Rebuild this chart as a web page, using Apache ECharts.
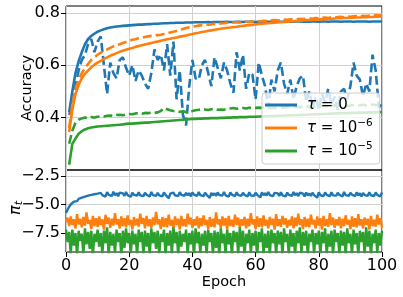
<!DOCTYPE html>
<html><head><meta charset="utf-8">
<script src="https://cdn.jsdelivr.net/npm/echarts@6/dist/echarts.min.js"></script>
<style>html,body{margin:0;padding:0;background:#fff}#c{width:403px;height:297px}</style>
</head><body><div id="c"></div>
<script>
// ---------- data ----------
const epochTicks = [0, 20, 40, 60, 80, 100];
const accTicks = [0.4, 0.6, 0.8];
const piTicks = [-7.5, -5.0, -2.5];
const legendNames = ['t0', 't6', 't5'];

// accuracy, epochs 1..100
const accBlueSolid = [0.42,0.50,0.57,0.615,0.65,0.68,0.70,0.712,0.72,0.728,0.733,0.737,0.741,0.744,0.746,0.748,0.749,0.750,0.751,0.752,
0.753,0.754,0.755,0.755,0.756,0.757,0.757,0.758,0.758,0.759,0.760,0.760,0.761,0.761,0.762,0.762,0.762,0.763,0.763,0.763,
0.764,0.764,0.764,0.764,0.765,0.764,0.765,0.765,0.765,0.765,0.766,0.765,0.765,0.766,0.766,0.765,0.766,0.766,0.766,0.765,
0.766,0.766,0.767,0.766,0.766,0.766,0.767,0.766,0.766,0.767,0.766,0.766,0.767,0.767,0.766,0.767,0.766,0.767,0.767,0.766,
0.767,0.767,0.766,0.767,0.767,0.767,0.766,0.767,0.767,0.767,0.766,0.767,0.767,0.767,0.767,0.766,0.767,0.767,0.767,0.767];
const accBlueDash = [0.41,0.44,0.52,0.58,0.62,0.64,0.68,0.70,0.65,0.69,0.71,0.60,0.49,0.61,0.57,0.55,0.62,0.63,0.59,0.56,
0.60,0.54,0.58,0.56,0.53,0.51,0.57,0.66,0.62,0.64,0.58,0.68,0.56,0.69,0.47,0.58,0.41,0.37,0.52,0.62,
0.55,0.545,0.60,0.62,0.57,0.52,0.63,0.59,0.55,0.61,0.58,0.53,0.495,0.65,0.58,0.64,0.51,0.57,0.565,0.47,
0.61,0.56,0.52,0.44,0.545,0.50,0.58,0.61,0.53,0.49,0.545,0.47,0.52,0.55,0.56,0.46,0.50,0.44,0.48,0.43,
0.49,0.46,0.51,0.45,0.48,0.43,0.50,0.51,0.47,0.52,0.61,0.56,0.545,0.48,0.53,0.50,0.64,0.58,0.44,0.45];
const accOrangeSolid = [0.345,0.43,0.49,0.525,0.55,0.567,0.58,0.592,0.602,0.61,0.617,0.624,0.63,0.636,0.641,0.646,0.651,0.655,0.659,0.663,
0.666,0.670,0.673,0.676,0.679,0.682,0.685,0.688,0.690,0.693,0.696,0.699,0.701,0.704,0.706,0.709,0.711,0.713,0.716,0.719,
0.722,0.724,0.727,0.729,0.731,0.733,0.735,0.737,0.739,0.741,0.743,0.744,0.746,0.747,0.749,0.750,0.752,0.753,0.754,0.756,
0.757,0.758,0.759,0.760,0.761,0.762,0.763,0.764,0.765,0.766,0.767,0.768,0.769,0.770,0.771,0.772,0.772,0.773,0.774,0.775,
0.775,0.776,0.777,0.777,0.778,0.779,0.779,0.780,0.780,0.781,0.781,0.782,0.782,0.783,0.783,0.784,0.784,0.785,0.785,0.786];
const accOrangeDash = [0.36,0.45,0.51,0.545,0.57,0.59,0.605,0.62,0.63,0.64,0.648,0.655,0.66,0.666,0.672,0.677,0.680,0.685,0.689,0.693,
0.697,0.699,0.703,0.705,0.708,0.710,0.712,0.713,0.715,0.716,0.719,0.722,0.725,0.728,0.731,0.735,0.738,0.742,0.745,0.748,
0.749,0.751,0.753,0.752,0.755,0.756,0.758,0.757,0.759,0.760,0.762,0.761,0.763,0.764,0.763,0.765,0.766,0.765,0.767,0.768,
0.767,0.769,0.770,0.768,0.771,0.772,0.771,0.773,0.774,0.773,0.775,0.776,0.775,0.777,0.776,0.778,0.779,0.777,0.780,0.779,
0.781,0.782,0.780,0.783,0.782,0.784,0.785,0.783,0.786,0.785,0.787,0.788,0.786,0.789,0.788,0.790,0.789,0.791,0.790,0.791];
const accGreenSolid = [0.22,0.30,0.32,0.338,0.348,0.355,0.359,0.362,0.364,0.366,0.367,0.368,0.369,0.370,0.371,0.372,0.373,0.374,0.376,0.377,
0.377,0.378,0.379,0.380,0.381,0.381,0.382,0.383,0.384,0.385,0.386,0.387,0.388,0.389,0.390,0.391,0.392,0.393,0.394,0.395,
0.395,0.396,0.396,0.397,0.397,0.398,0.398,0.398,0.399,0.399,0.400,0.400,0.401,0.401,0.402,0.402,0.402,0.403,0.403,0.403,
0.404,0.404,0.405,0.405,0.406,0.406,0.407,0.407,0.408,0.408,0.409,0.409,0.410,0.410,0.411,0.411,0.412,0.412,0.413,0.413,
0.414,0.414,0.415,0.415,0.416,0.416,0.417,0.417,0.417,0.418,0.418,0.418,0.419,0.419,0.419,0.420,0.420,0.420,0.421,0.421];
const accGreenDash = [0.30,0.35,0.38,0.392,0.397,0.400,0.398,0.402,0.400,0.403,0.405,0.404,0.407,0.408,0.406,0.410,0.411,0.409,0.412,0.414,
0.413,0.416,0.417,0.415,0.418,0.417,0.419,0.418,0.420,0.425,0.437,0.432,0.428,0.425,0.423,0.422,0.424,0.421,0.423,0.425,
0.428,0.430,0.433,0.431,0.429,0.432,0.434,0.430,0.431,0.430,0.433,0.435,0.437,0.434,0.436,0.437,0.435,0.438,0.436,0.437,
0.438,0.437,0.439,0.436,0.438,0.437,0.439,0.440,0.438,0.440,0.441,0.439,0.442,0.440,0.441,0.443,0.441,0.442,0.444,0.442,
0.443,0.445,0.443,0.444,0.446,0.444,0.445,0.447,0.445,0.446,0.448,0.446,0.447,0.449,0.447,0.448,0.450,0.448,0.449,0.450];

// pi_t, epochs 0..100 every 0.5
const piBlue = [-5.75,-5.45,-5.2,-5.0,-4.85,-4.75,-4.6,-4.7,-4.5,-4.55,-4.4,-4.45,-4.3,-4.38,-4.22,-4.32,-4.15,-4.28,-4.1,-4.25,-4.05,
-4.22,-3.98,-4.18,-4.02,-4.3,-3.92,-4.15,-4.05,-4.25,-3.88,
-4.2,-4.0,-4.28,-3.95,-4.12,-4.02,-4.24,-3.9,-4.18,-4.05,
-4.32,-3.97,-4.15,-4.0,-4.22,-3.93,-4.2,-4.04,-4.27,-3.96,
-4.14,-4.03,-4.3,-3.9,-4.17,-4.02,-4.25,-3.98,-4.2,-4.06,
-4.28,-3.94,-4.15,-4.01,-4.45,-4.05,-4.22,-3.95,-4.19,-4.03,
-4.26,-3.92,-4.16,-4.04,-4.23,-3.97,-4.2,-4.0,-4.29,-3.93,
-4.13,-4.05,-4.24,-3.9,-4.18,-4.02,-4.27,-3.96,-4.15,-4.04,
-4.42,-3.98,-4.2,-4.01,-4.25,-3.94,-4.17,-4.03,-4.22,-3.91,
-4.19,-4.05,-4.3,-3.95,-4.14,-4.02,-4.26,-3.93,-4.18,-4.06,
-4.23,-3.97,-4.16,-4.0,-4.28,-3.92,-4.21,-4.04,-4.24,-3.96,
-4.15,-4.03,-4.38,-3.94,-4.19,-4.01,-4.22,-3.9,-4.17,-4.05,
-4.27,-3.98,-4.14,-4.02,-4.25,-3.93,-4.2,-4.03,-4.29,-3.95,
-4.16,-4.04,-4.23,-3.91,-4.18,-4.0,-4.26,-3.97,-4.13,-4.05,
-4.3,-3.94,-4.21,-4.02,-4.24,-3.96,-4.17,-4.03,-4.4,-3.92,
-4.19,-4.05,-4.25,-3.95,-4.15,-4.01,-4.27,-3.93,-4.2,-4.04,
-4.22,-3.97,-4.16,-4.02,-4.28,-3.9,-4.18,-4.05,-4.24,-3.96,
-4.14,-4.03,-4.26,-3.94,-4.2,-4.01,-4.3,-3.98,-4.17,-4.04,
-4.23,-3.92,-4.19,-4.02,-4.25,-3.95,-4.15,-4.05,-4.28,-3.93];
const piOrange = [-6.55,
-6.15,-6.9,-6.05,-6.8,-6.3,-7.1,-5.85,-6.75,-6.25,-7.0,
-6.1,-6.85,-5.7,-6.7,-6.35,-7.15,-6.0,-6.9,-6.2,-6.95,
-6.05,-6.8,-6.3,-7.2,-5.9,-6.7,-6.15,-7.05,-6.25,-6.85,
-5.75,-6.75,-6.3,-7.1,-6.05,-6.9,-6.2,-7.0,-5.95,-6.8,
-6.35,-7.2,-6.1,-6.85,-6.25,-6.95,-5.8,-6.7,-6.2,-7.1,
-6.0,-6.9,-6.3,-7.05,-6.15,-6.8,-5.65,-6.75,-6.3,-7.15,
-6.1,-6.95,-6.2,-7.0,-5.9,-6.85,-6.35,-7.1,-6.05,-6.8,
-6.25,-7.2,-6.0,-6.9,-6.3,-6.95,-5.8,-6.75,-6.15,-7.05,
-6.3,-6.85,-6.05,-7.1,-6.2,-6.9,-5.95,-6.8,-6.35,-7.15,
-6.1,-6.95,-6.25,-7.0,-5.7,-6.75,-6.3,-7.1,-6.05,-6.85,
-6.2,-7.2,-6.0,-6.9,-6.35,-6.95,-5.9,-6.8,-6.15,-7.05,
-6.3,-6.85,-6.1,-7.1,-6.25,-6.9,-5.75,-6.75,-6.3,-7.15,
-6.05,-6.95,-6.2,-7.0,-5.95,-6.85,-6.35,-7.1,-6.1,-6.8,
-6.25,-7.2,-5.85,-6.9,-6.3,-6.95,-6.0,-6.75,-6.2,-7.05,
-6.35,-6.85,-6.05,-7.1,-6.15,-6.9,-5.8,-6.8,-6.3,-7.15,
-6.1,-6.95,-6.25,-7.0,-5.9,-6.75,-6.35,-7.1,-6.05,-6.85,
-6.2,-7.2,-6.0,-6.9,-6.3,-6.95,-5.75,-6.8,-6.15,-7.05,
-6.3,-6.85,-6.1,-7.1,-6.25,-6.9,-5.95,-6.75,-6.35,-7.15,
-6.05,-6.95,-6.2,-7.0,-5.85,-6.85,-6.3,-7.1,-6.15,-6.8,
-6.25,-7.2,-6.0,-6.9,-6.35,-6.95,-5.9,-6.75,-6.2,-7.05];
const piGreen = [-7.2,
-8.3,-7.4,-9.4,-7.2,-8.6,-7.5,-9.5,-7.3,-8.2,-7.6,
-9.4,-7.1,-8.5,-7.4,-8.9,-7.3,-9.5,-7.6,-8.3,-7.2,
-8.7,-7.5,-9.4,-7.3,-8.4,-7.0,-9.5,-7.4,-8.6,-7.6,
-9.3,-7.2,-8.3,-7.5,-9.5,-7.3,-8.8,-7.1,-8.4,-7.5,
-9.4,-7.3,-8.5,-7.6,-9.5,-7.2,-8.3,-7.4,-9.4,-7.3,
-8.7,-7.5,-9.5,-7.1,-8.4,-7.4,-8.9,-7.3,-9.4,-7.6,
-8.3,-7.2,-9.5,-7.5,-8.6,-7.3,-9.4,-7.0,-8.4,-7.4,
-9.5,-7.3,-8.7,-7.6,-8.3,-7.2,-9.4,-7.5,-8.5,-7.3,
-9.5,-7.1,-8.4,-7.4,-9.3,-7.6,-8.6,-7.3,-9.5,-7.2,
-8.3,-7.5,-9.4,-7.3,-8.8,-7.4,-9.5,-7.1,-8.4,-7.6,
-9.4,-7.2,-8.5,-7.5,-9.5,-7.3,-8.3,-7.4,-9.4,-7.0,
-8.7,-7.3,-9.5,-7.6,-8.4,-7.2,-9.3,-7.5,-8.6,-7.3,
-9.5,-7.4,-8.3,-7.1,-9.4,-7.6,-8.8,-7.3,-9.5,-7.2,
-8.4,-7.5,-9.4,-7.3,-8.5,-7.4,-9.5,-7.1,-8.3,-7.6,
-9.4,-7.2,-8.7,-7.5,-9.5,-7.3,-8.4,-7.0,-9.3,-7.4,
-8.6,-7.3,-9.5,-7.6,-8.3,-7.2,-9.4,-7.5,-8.5,-7.3,
-9.5,-7.4,-8.4,-7.1,-9.4,-7.6,-8.7,-7.3,-9.5,-7.2,
-8.3,-7.5,-9.4,-7.3,-8.6,-7.4,-9.5,-7.1,-8.4,-7.6,
-9.4,-7.2,-8.5,-7.5,-9.5,-7.3,-8.3,-7.4,-9.4,-7.0,
-8.7,-7.3,-9.5,-7.6,-8.4,-7.2,-9.3,-7.5,-8.6,-7.3];

// ---------- chart ----------
const C = {blue:'#1f77b4', orange:'#ff7f0e', green:'#2ca02c'};
const FONT = 'DejaVu Sans';
const accPts = arr => arr.map((v,i)=>[i+1, v]);
const piPts = arr => arr.map((v,i)=>[i*0.5, v]);
const fmtMinus = v => (v<0?'\u2212':'') + Math.abs(v).toFixed(1);

function accLine(name, data, color, dashed){
  return {name, type:'line', xAxisIndex:0, yAxisIndex:0, data:accPts(data), showSymbol:false, symbol:'none',
    lineStyle:{color, width:2.6, type: dashed?[9,4]:'solid', cap:'butt'}, itemStyle:{color}, animation:false, z:3};
}
function piLine(name, data, color){
  return {name, type:'line', xAxisIndex:1, yAxisIndex:1, data:piPts(data), showSymbol:false, symbol:'none',
    lineStyle:{color, width:2.4}, itemStyle:{color}, animation:false, z:3};
}

const chart = echarts.init(document.getElementById('c'), null, {renderer:'canvas'});
const axisLabelStyle = {color:'#000', fontSize:16, fontFamily:FONT};
chart.setOption({
  backgroundColor:'#fff',
  animation:false,
  textStyle:{fontFamily:FONT},
  grid:[
    {left:66, top:6, width:316, height:164, show:true, borderColor:'#000', borderWidth:1, backgroundColor:'transparent'},
    {left:66, top:170, width:316, height:82, show:true, borderColor:'#000', borderWidth:1, backgroundColor:'transparent'}
  ],
  graphic:[
    {type:'text', x:27, y:88, rotation:Math.PI/2, silent:true,
     style:{text:'Accuracy', fill:'#000', font:'14.5px "DejaVu Sans"', align:'center', verticalAlign:'middle'}},
    {type:'text', x:224, y:282, silent:true,
     style:{text:'Epoch', fill:'#000', font:'14.5px "DejaVu Sans"', align:'center', verticalAlign:'middle'}},
    {type:'text', x:16, y:208, rotation:Math.PI/2, silent:true,
     style:{text:'{p|π}{t|t}', fill:'#000', align:'center', verticalAlign:'middle',
       rich:{p:{fontSize:16, fontStyle:'italic', fontFamily:FONT, fill:'#000'},
             t:{fontSize:11, fontStyle:'italic', fontFamily:FONT, fill:'#000', verticalAlign:'bottom', padding:[6,0,0,0]}}}}
  ],
  xAxis:[
    {gridIndex:0, type:'value', min:epochTicks[0], max:epochTicks[epochTicks.length-1], interval:20, axisLine:{show:false}, axisTick:{show:false}, axisLabel:{show:false},
     splitLine:{show:true, lineStyle:{color:'#d0d0d0', width:1}}},
    {gridIndex:1, type:'value', min:epochTicks[0], max:epochTicks[epochTicks.length-1], interval:20, axisLine:{show:false},
     axisTick:{show:true, length:5, lineStyle:{color:'#000'}},
     axisLabel:Object.assign({margin:6}, axisLabelStyle),
     splitLine:{show:true, lineStyle:{color:'#d0d0d0', width:1}}}
  ],
  yAxis:[
    {gridIndex:0, type:'value', min:0.2, max:0.826, axisLine:{show:false},
     axisTick:{show:true, length:5, lineStyle:{color:'#000'}, customValues:accTicks},
     axisLabel:Object.assign({margin:6, customValues:accTicks, formatter:v=>v.toFixed(1)}, axisLabelStyle),
     splitLine:{show:true, lineStyle:{color:'#d0d0d0', width:1}}},
    {gridIndex:1, type:'value', min:-9.17, max:-1.97, axisLine:{show:false},
     axisTick:{show:true, length:5, lineStyle:{color:'#000'}, customValues:piTicks},
     axisLabel:Object.assign({margin:6, customValues:piTicks, formatter:fmtMinus}, axisLabelStyle),
     splitLine:{show:true, lineStyle:{color:'#d0d0d0', width:1}}}
  ],
  legend:{
    data:legendNames.map(n=>({name:n, icon:'rect'})),
    orient:'vertical', left:262, top:93, itemWidth:32, itemHeight:3, itemGap:3,
    padding:[2,7,3,3],
    backgroundColor:'rgba(255,255,255,0.8)', borderColor:'#cccccc', borderWidth:1, borderRadius:3,
    formatter: n => ({t0:'{i|τ}{n| = 0}', t6:'{i|τ}{n| = 10}{s|−6}', t5:'{i|τ}{n| = 10}{s|−5}'})[n],
    textStyle:{color:'#000', fontFamily:FONT, fontSize:15, lineHeight:20, padding:[0,0,0,5], rich:{
      i:{fontSize:15, fontStyle:'italic', fontFamily:FONT, color:'#000', lineHeight:20},
      n:{fontSize:15, fontFamily:FONT, color:'#000', lineHeight:20},
      s:{fontSize:10.5, fontFamily:FONT, color:'#000', verticalAlign:'top', lineHeight:11}}},
    selectedMode:false, z:10
  },
  series:[
    accLine('t0', accBlueSolid, C.blue, false),
    accLine('d0', accBlueDash, C.blue, true),
    accLine('t6', accOrangeSolid, C.orange, false),
    accLine('d6', accOrangeDash, C.orange, true),
    accLine('t5', accGreenSolid, C.green, false),
    accLine('d5', accGreenDash, C.green, true),
    piLine('p0', piBlue, C.blue),
    piLine('p6', piOrange, C.orange),
    piLine('p5', piGreen, C.green)
  ]
});
</script></body></html>
